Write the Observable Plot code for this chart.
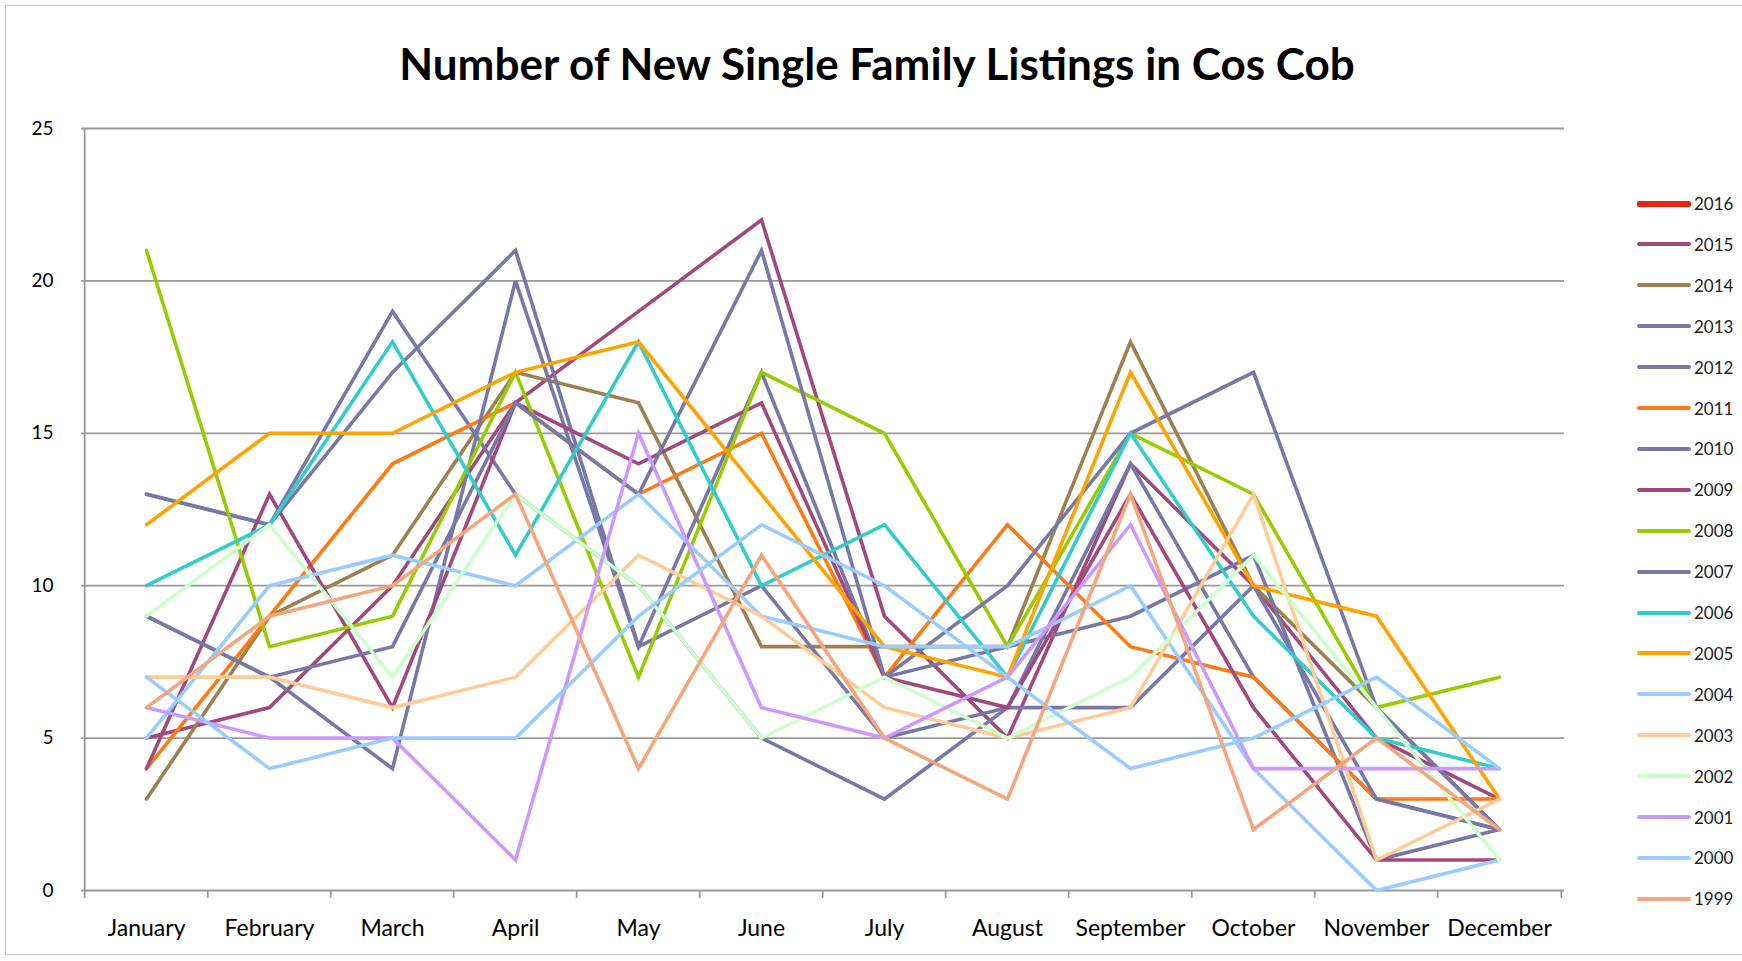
<!DOCTYPE html>
<html>
<head>
<meta charset="utf-8">
<script src="https://cdn.jsdelivr.net/npm/d3@7"></script>
<script src="https://cdn.jsdelivr.net/npm/@observablehq/plot@0.6"></script>
<style>
  body { margin: 0; background: #fff; font-family: Lato, "Open Sans", sans-serif; }
  #wrap { position: relative; width: 1742px; height: 961px; overflow: hidden; background: #fff; }
  #chart { position: absolute; left: 0; top: 0; }
  #frame { position: absolute; left: 5px; top: 5px; width: 1800px; height: 948px; border: 1.5px solid #c4c4c4; pointer-events: none; }
  #title { position: absolute; left: 0; width: 1754px; top: 37px; text-align: center; font: bold 44px Lato, sans-serif; color: #000; line-height: 52px; }
  .leg { position: absolute; left: 1630px; height: 20px; display: flex; align-items: center; }
  .leg .sw { width: 54px; margin-left: 7px; border-radius: 2px; }
  .leg .lb { margin-left: 3px; font: 17px Lato, sans-serif; color: #222; }
</style>
</head>
<body>
<div id="wrap">
  <div id="chart"></div>
  <div id="title">Number of New Single Family Listings in Cos Cob</div>
  <div id="legend"></div>
  <div id="frame"></div>
</div>
<script>
const months = ["January","February","March","April","May","June","July","August","September","October","November","December"];
const yTicks = [0, 5, 10, 15, 20, 25];
const years = ["2016","2015","2014","2013","2012","2011","2010","2009","2008","2007","2006","2005","2004","2003","2002","2001","2000","1999"];
const colors = ["#e8250f","#a3487c","#9e8050","#7878a8","#7878a8","#ff7a12","#7878a8","#a3487c","#99cc00","#7878a8","#33cccc","#ffa300","#99ccff","#ffcc99","#ccffcc","#cc99ff","#99ccff","#f5a67c"];

const v2016 = [];
const v2015 = [5, 6, 10, 16, 19, 22, 9, 5, 14, 10, 5, 3];
const v2014 = [3, 9, 11, 17, 16, 8, 8, 8, 18, 10, 6, 2];
const v2013 = [13, 12, 19, 13, 10, 5, 3, 6, 14, 7, 3, 2];
const v2012 = [13, 12, 17, 21, 8, 17, 7, 8, 9, 11, 1, 2];
const v2011 = [4, 9, 14, 16, 13, 15, 7, 12, 8, 7, 3, 3];
const v2010 = [9, 7, 4, 20, 8, 10, 5, 6, 6, 10, 3, 2];
const v2009 = [4, 13, 6, 16, 14, 16, 7, 6, 13, 6, 1, 1];
const v2008 = [21, 8, 9, 17, 7, 17, 15, 8, 15, 13, 6, 7];
const v2007 = [9, 7, 8, 16, 13, 21, 7, 10, 15, 17, 6, 2];
const v2006 = [10, 12, 18, 11, 18, 10, 12, 7, 15, 9, 5, 4];
const v2005 = [12, 15, 15, 17, 18, 13, 8, 7, 17, 10, 9, 3];
const v2004 = [5, 10, 11, 10, 13, 9, 8, 8, 10, 4, 0, 1];
const v2003 = [7, 7, 6, 7, 11, 9, 6, 5, 6, 13, 1, 3];
const v2002 = [9, 12, 7, 13, 10, 5, 7, 5, 7, 11, 6, 1];
const v2001 = [6, 5, 5, 1, 15, 6, 5, 7, 12, 4, 4, 4];
const v2000 = [7, 4, 5, 5, 9, 12, 10, 7, 4, 5, 7, 4];
const v1999 = [6, 9, 10, 13, 4, 11, 5, 3, 13, 2, 5, 2];

const seriesValues = [v2016, v2015, v2014, v2013, v2012, v2011, v2010, v2009, v2008, v2007, v2006, v2005, v2004, v2003, v2002, v2001, v2000, v1999];
const data = [];
years.forEach((yr, k) => seriesValues[k].forEach((v, i) => data.push({year: yr, month: months[i], value: v})));

const W = 1600, H = 961, ML = 81, MR = 36, MT = 128, MB = 71;
const half = (W - ML - MR) / months.length / 2;
const grid = "#9a9a9a";

const chart = Plot.plot({
  width: W, height: H,
  marginLeft: ML, marginRight: MR, marginTop: MT, marginBottom: MB,
  style: {fontFamily: "Lato, sans-serif", background: "transparent", color: "#000"},
  x: {type: "point", domain: months, padding: 0.5, label: null},
  y: {domain: [0, 25], label: null},
  color: {domain: years, range: colors},
  marks: [
    Plot.ruleY(yTicks, {y: d => d, stroke: grid, strokeWidth: 1.8}),
    Plot.ruleY(yTicks, {y: d => d, x1: "January", x2: "January", dx: -half, insetLeft: -7, stroke: grid, strokeWidth: 1.8}),
    Plot.ruleX(["January"], {x: d => d, y1: 0, y2: 25, dx: -half, stroke: grid, strokeWidth: 1.8}),
    Plot.ruleX(months, {x: d => d, y1: 0, y2: -0.26, dx: -half, stroke: grid, strokeWidth: 1.8}),
    Plot.ruleX(["December"], {x: d => d, y1: 0, y2: -0.26, dx: half, stroke: grid, strokeWidth: 1.8}),
    Plot.axisY({ticks: yTicks, tickSize: 0, tickPadding: 28, fontSize: 19, label: null}),
    Plot.axisX({tickSize: 0, tickPadding: 29, fontSize: 23, label: null}),
    Plot.line(data, {x: "month", y: "value", z: "year", stroke: "year", strokeWidth: 3.6, strokeLinejoin: "miter", strokeMiterlimit: 3})
  ]
});
document.getElementById("chart").appendChild(chart);

const legend = d3.select("#legend");
years.forEach((yr, i) => {
  const item = legend.append("div").attr("class", "leg").style("top", (203.5 + 40.9 * i - 10) + "px");
  item.append("div").attr("class", "sw")
    .style("height", i === 0 ? "6px" : "4px")
    .style("background", colors[i]);
  item.append("div").attr("class", "lb").text(yr);
});
</script>
</body>
</html>
